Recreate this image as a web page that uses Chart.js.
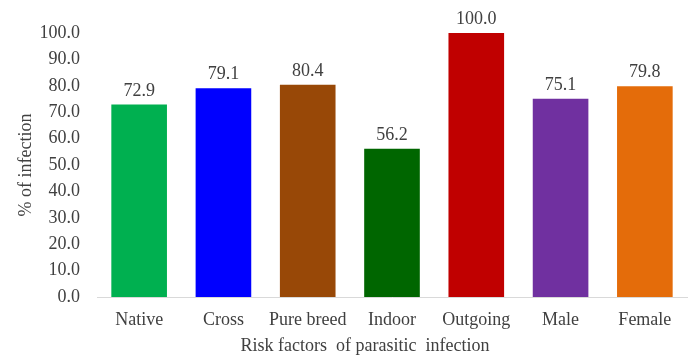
<!DOCTYPE html>
<html>
<head>
<meta charset="utf-8">
<script src="https://cdn.jsdelivr.net/npm/chart.js@4/dist/chart.umd.min.js"></script>
<style>
  html, body { margin: 0; padding: 0; background: #fff; }
  #wrap { width: 691px; height: 355px; }
</style>
</head>
<body>
<div id="wrap"><canvas id="riskChart" width="691" height="355"></canvas></div>
<script>
// ===== DATA =====
const categories = ['Native', 'Cross', 'Pure breed', 'Indoor', 'Outgoing', 'Male', 'Female'];
const infection = [72.9, 79.1, 80.4, 56.2, 100.0, 75.1, 79.8];
const barColors = ['#00B050', '#0000FF', '#984807', '#006600', '#C00000', '#7030A0', '#E46C0A'];
const yMin = 0, yMax = 100, yStep = 10;

const textColor = '#404040';
const serif = { family: "'Liberation Serif', 'Times New Roman', serif", size: 18 };

// ===== VALUE LABELS ABOVE BARS =====
const barValues = {
  id: 'barValues',
  afterDatasetsDraw(chart) {
    const { ctx } = chart;
    const meta = chart.getDatasetMeta(0);
    ctx.save();
    ctx.font = serif.size + 'px ' + serif.family;
    ctx.fillStyle = textColor;
    ctx.textAlign = 'center';
    ctx.textBaseline = 'alphabetic';
    meta.data.forEach((bar, i) => {
      ctx.fillText(infection[i].toFixed(1), bar.x, bar.y - 9);
    });
    ctx.restore();
  }
};

new Chart(document.getElementById('riskChart'), {
  type: 'bar',
  data: {
    labels: categories,
    datasets: [{
      data: infection,
      backgroundColor: barColors,
      borderWidth: 0,
      barPercentage: 0.66,
      categoryPercentage: 1
    }]
  },
  options: {
    responsive: false,
    animation: false,
    layout: { padding: { top: 33, right: 4, left: 0, bottom: 0 } },
    plugins: {
      legend: { display: false },
      tooltip: { enabled: false }
    },
    scales: {
      x: {
        grid: { display: false, drawTicks: false },
        border: { display: true, color: '#D9D9D9', width: 1 },
        ticks: { color: textColor, font: serif, padding: 12, maxRotation: 0 },
        title: {
          display: true,
          // trailing spaces pull the centred title left, as in the original
          text: 'Risk factors  of parasitic  infection' + ' '.repeat(12),
          color: textColor,
          font: { ...serif, lineHeight: 1 },
          padding: { top: 0, bottom: 0 }
        },
        afterFit(scale) { scale.height = 58; }
      },
      y: {
        min: yMin,
        max: yMax,
        grid: { display: false, drawTicks: false },
        border: { display: false },
        ticks: {
          stepSize: yStep,
          color: textColor,
          font: serif,
          padding: 17,
          callback: v => v.toFixed(1)
        },
        title: {
          display: true,
          text: '% of infection',
          color: textColor,
          font: serif,
          padding: { top: 15, bottom: 0 }
        },
        afterFit(scale) { scale.width = 97; }
      }
    }
  },
  plugins: [barValues]
});
</script>
</body>
</html>
